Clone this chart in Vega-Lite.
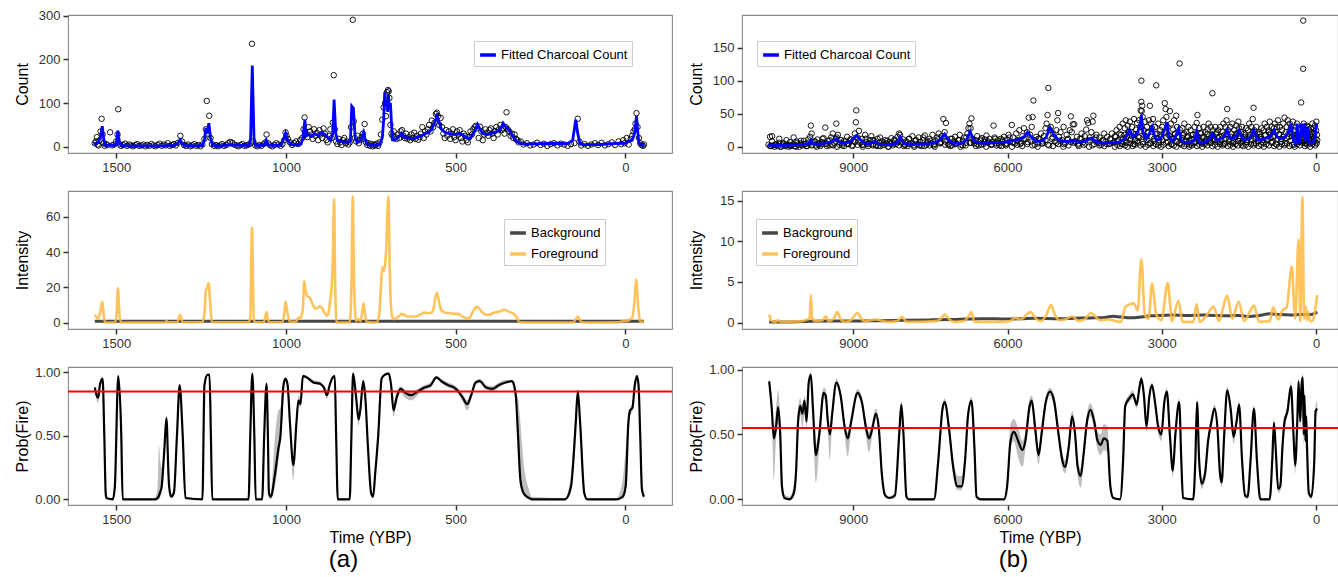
{
"$schema":"https://vega.github.io/schema/vega-lite/v6.json",
"background":"white",
"padding":{"left":13,"top":9,"right":0,"bottom":0},
"config":{
 "font":"Liberation Sans",
 "view":{"stroke":"#8c8c8c","strokeWidth":1.1},
 "axis":{"grid":false,"domain":false,"tickColor":"#333333","tickWidth":1.5,"tickSize":5,"labelFont":"Liberation Sans","labelFontSize":13,"labelColor":"#333333","labelPadding":3,"titleFont":"Liberation Sans","titleFontSize":16,"titleFontWeight":"normal","titleColor":"#000000","labelOverlap":false,"labelFlush":false},
 "axisY":{"titleX":-46,"titleBaseline":"middle"},
 "axisX":{"titlePadding":3,"format":"d"},
 "legend":{"labelFont":"Liberation Sans","labelFontSize":13,"labelColor":"#000000","symbolType":"stroke","symbolStrokeWidth":3.5,"symbolSize":250,"padding":4,"rowPadding":4,"strokeColor":"#cccccc","fillColor":"white","labelOffset":3},
 "title":{"font":"Liberation Sans","fontSize":24,"fontWeight":"normal","color":"#000000"}
},
"datasets":{
"Lpts":[{"t":1563,"c":8},{"t":1560,"c":12},{"t":1557,"c":22},{"t":1555,"c":5},{"t":1552,"c":3},{"t":1549,"c":15},{"t":1546,"c":35},{"t":1543,"c":64},{"t":1540,"c":28},{"t":1537,"c":8},{"t":1534,"c":2},{"t":1530,"c":6},{"t":1526,"c":4},{"t":1518,"c":33},{"t":1512,"c":3},{"t":1506,"c":5},{"t":1500,"c":12},{"t":1496,"c":28},{"t":1494,"c":86},{"t":1490,"c":6},{"t":1486,"c":2},{"t":1480,"c":4},{"t":1474,"c":7},{"t":1468,"c":2},{"t":1462,"c":5},{"t":1456,"c":3},{"t":1450,"c":1},{"t":1444,"c":4},{"t":1438,"c":6},{"t":1432,"c":2},{"t":1426,"c":3},{"t":1420,"c":5},{"t":1414,"c":1},{"t":1408,"c":4},{"t":1402,"c":2},{"t":1396,"c":6},{"t":1390,"c":3},{"t":1384,"c":1},{"t":1378,"c":4},{"t":1372,"c":7},{"t":1366,"c":2},{"t":1360,"c":5},{"t":1354,"c":3},{"t":1348,"c":8},{"t":1342,"c":2},{"t":1336,"c":4},{"t":1330,"c":6},{"t":1324,"c":3},{"t":1318,"c":9},{"t":1311,"c":25},{"t":1306,"c":12},{"t":1300,"c":4},{"t":1294,"c":2},{"t":1288,"c":5},{"t":1282,"c":1},{"t":1276,"c":3},{"t":1270,"c":6},{"t":1264,"c":2},{"t":1258,"c":4},{"t":1252,"c":1},{"t":1246,"c":5},{"t":1240,"c":18},{"t":1236,"c":40},{"t":1233,"c":105},{"t":1229,"c":30},{"t":1226,"c":71},{"t":1222,"c":20},{"t":1218,"c":6},{"t":1212,"c":2},{"t":1206,"c":4},{"t":1200,"c":1},{"t":1194,"c":3},{"t":1188,"c":6},{"t":1182,"c":2},{"t":1176,"c":4},{"t":1170,"c":8},{"t":1164,"c":11},{"t":1158,"c":9},{"t":1152,"c":5},{"t":1146,"c":3},{"t":1140,"c":1},{"t":1134,"c":4},{"t":1128,"c":6},{"t":1122,"c":2},{"t":1116,"c":3},{"t":1110,"c":5},{"t":1104,"c":8},{"t":1100,"c":236},{"t":1096,"c":12},{"t":1090,"c":3},{"t":1084,"c":1},{"t":1078,"c":4},{"t":1072,"c":2},{"t":1066,"c":6},{"t":1060,"c":10},{"t":1057,"c":28},{"t":1052,"c":8},{"t":1046,"c":3},{"t":1040,"c":1},{"t":1034,"c":4},{"t":1028,"c":8},{"t":1022,"c":5},{"t":1016,"c":2},{"t":1010,"c":6},{"t":1005,"c":15},{"t":1001,"c":33},{"t":998,"c":25},{"t":994,"c":18},{"t":988,"c":10},{"t":982,"c":4},{"t":976,"c":8},{"t":970,"c":12},{"t":964,"c":6},{"t":958,"c":15},{"t":952,"c":20},{"t":948,"c":40},{"t":945,"c":67},{"t":941,"c":30},{"t":937,"c":22},{"t":933,"c":45},{"t":929,"c":35},{"t":925,"c":28},{"t":921,"c":18},{"t":917,"c":40},{"t":913,"c":25},{"t":909,"c":32},{"t":905,"c":15},{"t":901,"c":38},{"t":897,"c":28},{"t":893,"c":20},{"t":889,"c":42},{"t":885,"c":30},{"t":881,"c":15},{"t":877,"c":10},{"t":873,"c":25},{"t":869,"c":40},{"t":865,"c":20},{"t":862,"c":55},{"t":859,"c":164},{"t":856,"c":40},{"t":852,"c":12},{"t":848,"c":6},{"t":844,"c":18},{"t":840,"c":10},{"t":836,"c":4},{"t":832,"c":15},{"t":828,"c":20},{"t":824,"c":8},{"t":820,"c":12},{"t":816,"c":5},{"t":812,"c":10},{"t":808,"c":45},{"t":803,"c":291},{"t":800,"c":58},{"t":797,"c":20},{"t":793,"c":12},{"t":789,"c":25},{"t":785,"c":8},{"t":781,"c":15},{"t":777,"c":22},{"t":773,"c":30},{"t":768,"c":52},{"t":764,"c":10},{"t":760,"c":4},{"t":756,"c":8},{"t":752,"c":2},{"t":748,"c":6},{"t":744,"c":1},{"t":740,"c":5},{"t":736,"c":3},{"t":732,"c":7},{"t":728,"c":2},{"t":724,"c":10},{"t":720,"c":28},{"t":716,"c":62},{"t":712,"c":90},{"t":708,"c":100},{"t":705,"c":70},{"t":702,"c":125},{"t":699,"c":130},{"t":697,"c":127},{"t":695,"c":112},{"t":692,"c":50},{"t":689,"c":30},{"t":686,"c":25},{"t":682,"c":35},{"t":678,"c":22},{"t":674,"c":18},{"t":670,"c":28},{"t":666,"c":20},{"t":662,"c":35},{"t":658,"c":38},{"t":654,"c":25},{"t":650,"c":20},{"t":646,"c":30},{"t":642,"c":18},{"t":638,"c":22},{"t":634,"c":15},{"t":630,"c":28},{"t":626,"c":20},{"t":622,"c":32},{"t":618,"c":18},{"t":614,"c":25},{"t":610,"c":16},{"t":606,"c":22},{"t":602,"c":30},{"t":598,"c":45},{"t":594,"c":20},{"t":590,"c":35},{"t":586,"c":28},{"t":582,"c":40},{"t":578,"c":50},{"t":574,"c":35},{"t":570,"c":60},{"t":566,"c":45},{"t":562,"c":55},{"t":558,"c":75},{"t":555,"c":78},{"t":552,"c":70},{"t":548,"c":50},{"t":544,"c":66},{"t":540,"c":45},{"t":536,"c":30},{"t":532,"c":20},{"t":528,"c":38},{"t":524,"c":25},{"t":520,"c":35},{"t":516,"c":18},{"t":512,"c":30},{"t":508,"c":40},{"t":504,"c":22},{"t":500,"c":15},{"t":496,"c":35},{"t":492,"c":28},{"t":488,"c":38},{"t":484,"c":20},{"t":480,"c":12},{"t":476,"c":30},{"t":472,"c":25},{"t":468,"c":15},{"t":464,"c":10},{"t":460,"c":22},{"t":456,"c":35},{"t":452,"c":28},{"t":448,"c":40},{"t":444,"c":45},{"t":440,"c":48},{"t":436,"c":42},{"t":432,"c":20},{"t":428,"c":46},{"t":424,"c":35},{"t":420,"c":15},{"t":416,"c":28},{"t":412,"c":40},{"t":408,"c":32},{"t":404,"c":25},{"t":400,"c":38},{"t":396,"c":42},{"t":392,"c":30},{"t":388,"c":20},{"t":384,"c":36},{"t":380,"c":45},{"t":376,"c":28},{"t":372,"c":40},{"t":368,"c":50},{"t":364,"c":38},{"t":360,"c":42},{"t":356,"c":30},{"t":352,"c":45},{"t":350,"c":79},{"t":346,"c":40},{"t":342,"c":35},{"t":338,"c":25},{"t":334,"c":30},{"t":330,"c":20},{"t":326,"c":28},{"t":322,"c":18},{"t":318,"c":15},{"t":314,"c":10},{"t":308,"c":12},{"t":300,"c":5},{"t":290,"c":8},{"t":280,"c":3},{"t":270,"c":5},{"t":260,"c":9},{"t":250,"c":4},{"t":240,"c":7},{"t":230,"c":2},{"t":220,"c":6},{"t":210,"c":8},{"t":200,"c":3},{"t":190,"c":7},{"t":180,"c":5},{"t":170,"c":2},{"t":160,"c":6},{"t":150,"c":8},{"t":140,"c":64},{"t":135,"c":12},{"t":130,"c":3},{"t":120,"c":6},{"t":110,"c":2},{"t":100,"c":5},{"t":90,"c":8},{"t":80,"c":4},{"t":70,"c":9},{"t":60,"c":3},{"t":50,"c":6},{"t":40,"c":10},{"t":30,"c":4},{"t":20,"c":12},{"t":12,"c":6},{"t":6,"c":15},{"t":2,"c":8},{"t":-4,"c":20},{"t":-10,"c":5},{"t":-16,"c":18},{"t":-20,"c":25},{"t":-24,"c":35},{"t":-28,"c":40},{"t":-30,"c":53},{"t":-33,"c":77},{"t":-36,"c":45},{"t":-40,"c":20},{"t":-44,"c":8},{"t":-48,"c":4},{"t":-52,"c":2},{"t":-55,"c":5}],
"Lfit":[{"t":1566,"v":8},{"t":1560,"v":6},{"t":1552,"v":10},{"t":1546,"v":25},{"t":1541,"v":47},{"t":1537,"v":20},{"t":1533,"v":4},{"t":1526,"v":3},{"t":1510,"v":3},{"t":1500,"v":5},{"t":1495,"v":37},{"t":1490,"v":8},{"t":1485,"v":3},{"t":1470,"v":2},{"t":1440,"v":2},{"t":1400,"v":2},{"t":1360,"v":2},{"t":1330,"v":3},{"t":1318,"v":8},{"t":1312,"v":16},{"t":1306,"v":8},{"t":1300,"v":3},{"t":1260,"v":2},{"t":1246,"v":3},{"t":1240,"v":15},{"t":1236,"v":43},{"t":1232,"v":30},{"t":1227,"v":54},{"t":1222,"v":20},{"t":1216,"v":3},{"t":1200,"v":2},{"t":1160,"v":4},{"t":1130,"v":3},{"t":1108,"v":3},{"t":1104,"v":20},{"t":1099,"v":186},{"t":1094,"v":20},{"t":1090,"v":3},{"t":1064,"v":3},{"t":1058,"v":15},{"t":1052,"v":3},{"t":1015,"v":3},{"t":1008,"v":15},{"t":1001,"v":31},{"t":995,"v":15},{"t":985,"v":5},{"t":970,"v":4},{"t":955,"v":6},{"t":950,"v":20},{"t":944,"v":62},{"t":940,"v":25},{"t":935,"v":28},{"t":925,"v":24},{"t":915,"v":30},{"t":905,"v":25},{"t":895,"v":32},{"t":885,"v":28},{"t":875,"v":20},{"t":868,"v":15},{"t":862,"v":30},{"t":858,"v":108},{"t":853,"v":30},{"t":848,"v":15},{"t":838,"v":12},{"t":825,"v":10},{"t":810,"v":12},{"t":806,"v":93},{"t":801,"v":88},{"t":796,"v":20},{"t":790,"v":10},{"t":780,"v":14},{"t":771,"v":33},{"t":765,"v":12},{"t":758,"v":5},{"t":740,"v":4},{"t":725,"v":4},{"t":716,"v":20},{"t":712,"v":60},{"t":709,"v":125},{"t":706,"v":95},{"t":703,"v":108},{"t":700,"v":80},{"t":698,"v":120},{"t":695,"v":90},{"t":692,"v":100},{"t":689,"v":55},{"t":686,"v":16},{"t":680,"v":15},{"t":672,"v":20},{"t":665,"v":25},{"t":659,"v":31},{"t":652,"v":22},{"t":640,"v":20},{"t":625,"v":18},{"t":612,"v":22},{"t":600,"v":25},{"t":590,"v":30},{"t":580,"v":32},{"t":570,"v":40},{"t":562,"v":55},{"t":555,"v":70},{"t":548,"v":55},{"t":542,"v":40},{"t":530,"v":32},{"t":515,"v":30},{"t":500,"v":28},{"t":485,"v":30},{"t":470,"v":22},{"t":458,"v":18},{"t":448,"v":30},{"t":440,"v":40},{"t":435,"v":51},{"t":428,"v":40},{"t":420,"v":30},{"t":410,"v":28},{"t":395,"v":30},{"t":380,"v":35},{"t":368,"v":40},{"t":360,"v":54},{"t":352,"v":45},{"t":342,"v":38},{"t":332,"v":25},{"t":320,"v":12},{"t":310,"v":8},{"t":300,"v":6},{"t":250,"v":7},{"t":200,"v":8},{"t":170,"v":7},{"t":155,"v":15},{"t":146,"v":62},{"t":140,"v":30},{"t":133,"v":6},{"t":120,"v":5},{"t":80,"v":5},{"t":40,"v":7},{"t":10,"v":8},{"t":0,"v":8},{"t":-10,"v":12},{"t":-20,"v":15},{"t":-27,"v":30},{"t":-31,"v":55},{"t":-33,"v":70},{"t":-36,"v":40},{"t":-40,"v":10},{"t":-45,"v":5},{"t":-55,"v":2}],
"LintF":[{"t":1563,"v":4.7},{"t":1554,"v":2.5},{"t":1548,"v":5},{"t":1541,"v":12},{"t":1536,"v":3},{"t":1533,"v":0.5},{"t":1525,"v":0.1},{"t":1504,"v":0.1},{"t":1499,"v":4},{"t":1495,"v":19.5},{"t":1490,"v":4},{"t":1485,"v":0.1},{"t":1400,"v":0.1},{"t":1355,"v":0.3},{"t":1352,"v":1},{"t":1348,"v":0.3},{"t":1320,"v":0.3},{"t":1312,"v":4.3},{"t":1304,"v":0.3},{"t":1246,"v":0.3},{"t":1240,"v":5},{"t":1236,"v":18},{"t":1231,"v":20},{"t":1228,"v":22.5},{"t":1222,"v":8},{"t":1218,"v":0.3},{"t":1110,"v":0.3},{"t":1105,"v":3},{"t":1100,"v":54},{"t":1095,"v":3},{"t":1092,"v":0.3},{"t":1065,"v":0.3},{"t":1061,"v":3},{"t":1057,"v":6},{"t":1053,"v":2},{"t":1048,"v":0.3},{"t":1010,"v":0.3},{"t":1005,"v":5},{"t":1001,"v":12},{"t":995,"v":5},{"t":988,"v":0.5},{"t":970,"v":0.5},{"t":963,"v":3},{"t":957,"v":2.5},{"t":950,"v":8},{"t":946,"v":23.5},{"t":941,"v":17},{"t":937,"v":15},{"t":929,"v":14},{"t":920,"v":10},{"t":913,"v":8},{"t":905,"v":8.5},{"t":900,"v":9.5},{"t":893,"v":8},{"t":887,"v":6},{"t":879,"v":4},{"t":875,"v":5},{"t":870,"v":12},{"t":866,"v":18},{"t":862,"v":35},{"t":858,"v":70},{"t":855,"v":25},{"t":851,"v":0.1},{"t":840,"v":0.1},{"t":812,"v":0.1},{"t":807,"v":20},{"t":803,"v":71.5},{"t":799,"v":20},{"t":793,"v":1},{"t":787,"v":2},{"t":780,"v":1},{"t":776,"v":5},{"t":771,"v":11},{"t":767,"v":5},{"t":762,"v":0.5},{"t":740,"v":0.1},{"t":731,"v":0.5},{"t":725,"v":5},{"t":720,"v":20},{"t":716,"v":31.5},{"t":711,"v":29},{"t":705,"v":40},{"t":698,"v":71.5},{"t":694,"v":30},{"t":690,"v":8},{"t":686,"v":3},{"t":680,"v":2},{"t":672,"v":3},{"t":665,"v":4},{"t":659,"v":5},{"t":652,"v":4.5},{"t":643,"v":3.5},{"t":630,"v":3.5},{"t":617,"v":3.5},{"t":605,"v":4.5},{"t":592,"v":5.7},{"t":585,"v":5.5},{"t":573,"v":5.5},{"t":565,"v":8},{"t":560,"v":14},{"t":555,"v":17},{"t":549,"v":12},{"t":542,"v":7},{"t":535,"v":6},{"t":525,"v":5.5},{"t":517,"v":5.5},{"t":505,"v":5},{"t":492,"v":5},{"t":480,"v":3.5},{"t":466,"v":2.5},{"t":458,"v":3},{"t":450,"v":6},{"t":442,"v":8.5},{"t":437,"v":9},{"t":430,"v":8},{"t":422,"v":6},{"t":415,"v":5},{"t":410,"v":4.5},{"t":400,"v":4.5},{"t":390,"v":5.5},{"t":378,"v":6},{"t":368,"v":6.5},{"t":358,"v":7.3},{"t":350,"v":7},{"t":340,"v":6},{"t":328,"v":5},{"t":320,"v":3},{"t":313,"v":0.5},{"t":309,"v":0.3},{"t":250,"v":0.1},{"t":180,"v":0.1},{"t":152,"v":0.3},{"t":146,"v":2},{"t":140,"v":3.5},{"t":135,"v":2},{"t":128,"v":0.3},{"t":100,"v":0.1},{"t":20,"v":0.2},{"t":5,"v":1},{"t":-5,"v":1},{"t":-15,"v":2},{"t":-20,"v":2.5},{"t":-27,"v":12},{"t":-32,"v":24.5},{"t":-37,"v":12},{"t":-42,"v":2},{"t":-45,"v":0.5},{"t":-55,"v":0.5}],
"LintB":[{"t":1563,"v":0.8},{"t":1400,"v":0.8},{"t":1200,"v":0.85},{"t":1000,"v":0.85},{"t":800,"v":0.85},{"t":600,"v":0.9},{"t":400,"v":0.85},{"t":200,"v":0.85},{"t":0,"v":0.85},{"t":-55,"v":0.8}],
"Lprob":[{"t":1563,"p":0.88,"lo":0.86,"hi":0.9},{"t":1558,"p":0.82,"lo":0.78,"hi":0.85},{"t":1553,"p":0.8,"lo":0.76,"hi":0.83},{"t":1548,"p":0.9,"lo":0.87,"hi":0.92},{"t":1540,"p":0.95,"lo":0.93,"hi":0.96},{"t":1535,"p":0.5,"lo":0.45,"hi":0.55},{"t":1531,"p":0.05,"lo":0.03,"hi":0.07},{"t":1529,"p":0.01,"lo":0,"hi":0.02},{"t":1510,"p":0,"lo":0,"hi":0.01},{"t":1504,"p":0.1,"lo":0.07,"hi":0.15},{"t":1494,"p":0.97,"lo":0.96,"hi":0.98},{"t":1485,"p":0.5,"lo":0.47,"hi":0.53},{"t":1481,"p":0,"lo":0,"hi":0.01},{"t":1390,"p":0,"lo":0,"hi":0.005},{"t":1384,"p":0,"lo":0,"hi":0.02},{"t":1378,"p":0.01,"lo":0,"hi":0.1},{"t":1374,"p":0.03,"lo":0,"hi":0.43},{"t":1370,"p":0.06,"lo":0.02,"hi":0.3},{"t":1366,"p":0.1,"lo":0.05,"hi":0.25},{"t":1358,"p":0.4,"lo":0.35,"hi":0.45},{"t":1352,"p":0.64,"lo":0.6,"hi":0.66},{"t":1346,"p":0.2,"lo":0.15,"hi":0.25},{"t":1344,"p":0.1,"lo":0.07,"hi":0.15},{"t":1338,"p":0.02,"lo":0.01,"hi":0.04},{"t":1330,"p":0.05,"lo":0.03,"hi":0.08},{"t":1321,"p":0.5,"lo":0.47,"hi":0.53},{"t":1313,"p":0.9,"lo":0.88,"hi":0.91},{"t":1304,"p":0.5,"lo":0.47,"hi":0.53},{"t":1296,"p":0.01,"lo":0,"hi":0.02},{"t":1246,"p":0,"lo":0,"hi":0.005},{"t":1240,"p":0.9,"lo":0.88,"hi":0.92},{"t":1231,"p":0.98,"lo":0.97,"hi":0.99},{"t":1225,"p":0.98,"lo":0.97,"hi":0.99},{"t":1221,"p":0.5,"lo":0.47,"hi":0.53},{"t":1217,"p":0,"lo":0,"hi":0.01},{"t":1110,"p":0,"lo":0,"hi":0.005},{"t":1105,"p":0.5,"lo":0.47,"hi":0.53},{"t":1099,"p":0.99,"lo":0.98,"hi":1},{"t":1093,"p":0.5,"lo":0.47,"hi":0.53},{"t":1089,"p":0,"lo":0,"hi":0.01},{"t":1070,"p":0,"lo":0,"hi":0.01},{"t":1064,"p":0.5,"lo":0.45,"hi":0.55},{"t":1057,"p":0.91,"lo":0.88,"hi":0.93},{"t":1053,"p":0.5,"lo":0.45,"hi":0.55},{"t":1050,"p":0.05,"lo":0.03,"hi":0.1},{"t":1045,"p":0.02,"lo":0,"hi":0.05},{"t":1032,"p":0.2,"lo":0.1,"hi":0.5},{"t":1022,"p":0.4,"lo":0.3,"hi":0.7},{"t":1016,"p":0.5,"lo":0.45,"hi":0.72},{"t":1007,"p":0.9,"lo":0.87,"hi":0.92},{"t":1001,"p":0.95,"lo":0.93,"hi":0.96},{"t":995,"p":0.9,"lo":0.88,"hi":0.92},{"t":988,"p":0.6,"lo":0.55,"hi":0.65},{"t":978,"p":0.27,"lo":0.15,"hi":0.32},{"t":969,"p":0.6,"lo":0.55,"hi":0.65},{"t":963,"p":0.78,"lo":0.74,"hi":0.82},{"t":957,"p":0.75,"lo":0.72,"hi":0.8},{"t":950,"p":0.97,"lo":0.96,"hi":0.98},{"t":938,"p":0.96,"lo":0.95,"hi":0.97},{"t":919,"p":0.92,"lo":0.91,"hi":0.94},{"t":900,"p":0.91,"lo":0.9,"hi":0.93},{"t":888,"p":0.88,"lo":0.86,"hi":0.9},{"t":879,"p":0.82,"lo":0.79,"hi":0.85},{"t":871,"p":0.9,"lo":0.88,"hi":0.92},{"t":862,"p":0.96,"lo":0.95,"hi":0.97},{"t":856,"p":0.97,"lo":0.96,"hi":0.98},{"t":852,"p":0.5,"lo":0.47,"hi":0.53},{"t":847,"p":0,"lo":0,"hi":0.01},{"t":812,"p":0,"lo":0,"hi":0.01},{"t":807,"p":0.5,"lo":0.47,"hi":0.53},{"t":802,"p":0.99,"lo":0.98,"hi":1},{"t":793,"p":0.8,"lo":0.77,"hi":0.83},{"t":786,"p":0.63,"lo":0.58,"hi":0.67},{"t":781,"p":0.7,"lo":0.66,"hi":0.73},{"t":772,"p":0.93,"lo":0.91,"hi":0.94},{"t":766,"p":0.8,"lo":0.77,"hi":0.83},{"t":758,"p":0.4,"lo":0.36,"hi":0.44},{"t":749,"p":0.05,"lo":0.03,"hi":0.08},{"t":743,"p":0.02,"lo":0.01,"hi":0.04},{"t":737,"p":0.2,"lo":0.17,"hi":0.24},{"t":728,"p":0.5,"lo":0.46,"hi":0.6},{"t":718,"p":0.95,"lo":0.93,"hi":0.96},{"t":709,"p":0.98,"lo":0.97,"hi":0.99},{"t":697,"p":0.99,"lo":0.98,"hi":1},{"t":690,"p":0.9,"lo":0.88,"hi":0.92},{"t":683,"p":0.7,"lo":0.65,"hi":0.75},{"t":674,"p":0.8,"lo":0.75,"hi":0.85},{"t":661,"p":0.87,"lo":0.84,"hi":0.89},{"t":649,"p":0.84,"lo":0.8,"hi":0.86},{"t":630,"p":0.82,"lo":0.78,"hi":0.85},{"t":611,"p":0.85,"lo":0.82,"hi":0.87},{"t":592,"p":0.88,"lo":0.86,"hi":0.9},{"t":573,"p":0.9,"lo":0.88,"hi":0.92},{"t":557,"p":0.96,"lo":0.95,"hi":0.97},{"t":542,"p":0.93,"lo":0.92,"hi":0.95},{"t":523,"p":0.9,"lo":0.88,"hi":0.92},{"t":504,"p":0.88,"lo":0.86,"hi":0.9},{"t":492,"p":0.85,"lo":0.83,"hi":0.87},{"t":479,"p":0.8,"lo":0.77,"hi":0.83},{"t":466,"p":0.75,"lo":0.7,"hi":0.78},{"t":454,"p":0.82,"lo":0.79,"hi":0.85},{"t":441,"p":0.92,"lo":0.9,"hi":0.93},{"t":429,"p":0.93,"lo":0.92,"hi":0.95},{"t":410,"p":0.88,"lo":0.86,"hi":0.9},{"t":391,"p":0.87,"lo":0.85,"hi":0.89},{"t":372,"p":0.9,"lo":0.88,"hi":0.92},{"t":353,"p":0.92,"lo":0.91,"hi":0.94},{"t":334,"p":0.93,"lo":0.92,"hi":0.94},{"t":328,"p":0.9,"lo":0.89,"hi":0.92},{"t":322,"p":0.8,"lo":0.78,"hi":0.83},{"t":316,"p":0.5,"lo":0.45,"hi":0.8},{"t":309,"p":0.15,"lo":0.12,"hi":0.6},{"t":300,"p":0.05,"lo":0.03,"hi":0.3},{"t":284,"p":0.01,"lo":0,"hi":0.08},{"t":275,"p":0,"lo":0,"hi":0.02},{"t":177,"p":0,"lo":0,"hi":0.01},{"t":160,"p":0.1,"lo":0.05,"hi":0.2},{"t":146,"p":0.6,"lo":0.55,"hi":0.7},{"t":140,"p":0.85,"lo":0.82,"hi":0.87},{"t":133,"p":0.6,"lo":0.55,"hi":0.65},{"t":121,"p":0.05,"lo":0.03,"hi":0.1},{"t":112,"p":0,"lo":0,"hi":0.01},{"t":26,"p":0,"lo":0,"hi":0.01},{"t":8,"p":0.02,"lo":0,"hi":0.15},{"t":-1,"p":0.1,"lo":0.05,"hi":0.4},{"t":-9,"p":0.6,"lo":0.5,"hi":0.65},{"t":-14,"p":0.7,"lo":0.65,"hi":0.72},{"t":-21,"p":0.72,"lo":0.7,"hi":0.75},{"t":-28,"p":0.9,"lo":0.88,"hi":0.92},{"t":-34,"p":0.97,"lo":0.96,"hi":0.98},{"t":-39,"p":0.9,"lo":0.88,"hi":0.92},{"t":-44,"p":0.5,"lo":0.47,"hi":0.53},{"t":-49,"p":0.08,"lo":0.05,"hi":0.1},{"t":-55,"p":0.02,"lo":0.01,"hi":0.03}],
"Rpts":[{"t":10650,"c":3},{"t":10620,"c":15},{"t":10600,"c":1},{"t":10580,"c":16},{"t":10560,"c":2},{"t":10530,"c":0},{"t":10500,"c":4},{"t":10470,"c":1},{"t":10440,"c":6},{"t":10410,"c":0},{"t":10380,"c":2},{"t":10350,"c":5},{"t":10320,"c":1},{"t":10290,"c":3},{"t":10260,"c":0},{"t":10230,"c":7},{"t":10200,"c":2},{"t":10170,"c":4},{"t":10140,"c":1},{"t":10110,"c":8},{"t":10080,"c":3},{"t":10050,"c":0},{"t":10020,"c":5},{"t":9990,"c":2},{"t":9960,"c":9},{"t":9930,"c":4},{"t":9900,"c":1},{"t":9870,"c":6},{"t":9840,"c":15},{"t":9826,"c":32},{"t":9810,"c":20},{"t":9790,"c":3},{"t":9760,"c":8},{"t":9730,"c":2},{"t":9700,"c":11},{"t":9670,"c":5},{"t":9640,"c":1},{"t":9610,"c":7},{"t":9580,"c":13},{"t":9545,"c":29},{"t":9520,"c":4},{"t":9490,"c":9},{"t":9460,"c":2},{"t":9430,"c":14},{"t":9400,"c":20},{"t":9370,"c":6},{"t":9340,"c":12},{"t":9330,"c":35},{"t":9300,"c":18},{"t":9270,"c":3},{"t":9240,"c":10},{"t":9210,"c":5},{"t":9180,"c":1},{"t":9150,"c":8},{"t":9120,"c":15},{"t":9090,"c":4},{"t":9060,"c":11},{"t":9030,"c":2},{"t":9000,"c":9},{"t":8970,"c":20},{"t":8950,"c":37},{"t":8942,"c":55},{"t":8920,"c":14},{"t":8890,"c":24},{"t":8860,"c":6},{"t":8830,"c":12},{"t":8800,"c":3},{"t":8770,"c":18},{"t":8740,"c":7},{"t":8710,"c":1},{"t":8680,"c":10},{"t":8650,"c":16},{"t":8620,"c":4},{"t":8590,"c":9},{"t":8560,"c":2},{"t":8530,"c":12},{"t":8500,"c":6},{"t":8470,"c":1},{"t":8440,"c":8},{"t":8410,"c":3},{"t":8380,"c":10},{"t":8350,"c":5},{"t":8320,"c":0},{"t":8290,"c":7},{"t":8260,"c":13},{"t":8230,"c":2},{"t":8200,"c":9},{"t":8170,"c":4},{"t":8140,"c":15},{"t":8110,"c":20},{"t":8090,"c":18},{"t":8060,"c":6},{"t":8030,"c":11},{"t":8000,"c":3},{"t":7970,"c":8},{"t":7940,"c":1},{"t":7910,"c":12},{"t":7880,"c":5},{"t":7850,"c":16},{"t":7820,"c":2},{"t":7790,"c":9},{"t":7760,"c":4},{"t":7730,"c":14},{"t":7700,"c":7},{"t":7670,"c":1},{"t":7640,"c":10},{"t":7610,"c":17},{"t":7580,"c":3},{"t":7550,"c":8},{"t":7520,"c":12},{"t":7490,"c":5},{"t":7460,"c":18},{"t":7430,"c":2},{"t":7400,"c":9},{"t":7370,"c":14},{"t":7340,"c":20},{"t":7310,"c":6},{"t":7280,"c":16},{"t":7248,"c":42},{"t":7223,"c":22},{"t":7198,"c":36},{"t":7170,"c":10},{"t":7140,"c":4},{"t":7110,"c":12},{"t":7080,"c":2},{"t":7050,"c":8},{"t":7020,"c":15},{"t":6990,"c":5},{"t":6960,"c":10},{"t":6930,"c":18},{"t":6900,"c":3},{"t":6870,"c":9},{"t":6840,"c":14},{"t":6810,"c":6},{"t":6780,"c":20},{"t":6760,"c":28},{"t":6740,"c":35},{"t":6719,"c":28},{"t":6702,"c":43},{"t":6680,"c":12},{"t":6650,"c":5},{"t":6620,"c":10},{"t":6590,"c":16},{"t":6560,"c":2},{"t":6530,"c":9},{"t":6500,"c":13},{"t":6470,"c":4},{"t":6440,"c":11},{"t":6410,"c":17},{"t":6380,"c":6},{"t":6350,"c":12},{"t":6320,"c":3},{"t":6290,"c":8},{"t":6272,"c":32},{"t":6250,"c":14},{"t":6220,"c":5},{"t":6190,"c":10},{"t":6160,"c":2},{"t":6130,"c":12},{"t":6100,"c":7},{"t":6070,"c":15},{"t":6040,"c":4},{"t":6010,"c":11},{"t":5980,"c":18},{"t":5950,"c":8},{"t":5917,"c":33},{"t":5890,"c":14},{"t":5860,"c":5},{"t":5830,"c":20},{"t":5800,"c":10},{"t":5770,"c":25},{"t":5740,"c":6},{"t":5710,"c":16},{"t":5680,"c":28},{"t":5650,"c":12},{"t":5620,"c":22},{"t":5587,"c":44},{"t":5560,"c":18},{"t":5530,"c":30},{"t":5512,"c":45},{"t":5496,"c":70},{"t":5470,"c":10},{"t":5440,"c":15},{"t":5410,"c":5},{"t":5380,"c":12},{"t":5350,"c":20},{"t":5320,"c":8},{"t":5290,"c":16},{"t":5260,"c":28},{"t":5240,"c":35},{"t":5222,"c":48},{"t":5206,"c":89},{"t":5180,"c":25},{"t":5160,"c":30},{"t":5140,"c":12},{"t":5110,"c":20},{"t":5080,"c":8},{"t":5050,"c":25},{"t":5030,"c":40},{"t":5016,"c":51},{"t":5000,"c":15},{"t":4970,"c":22},{"t":4940,"c":10},{"t":4910,"c":30},{"t":4880,"c":5},{"t":4850,"c":18},{"t":4820,"c":12},{"t":4790,"c":25},{"t":4768,"c":46},{"t":4750,"c":22},{"t":4730,"c":34},{"t":4702,"c":34},{"t":4680,"c":8},{"t":4650,"c":15},{"t":4620,"c":5},{"t":4590,"c":12},{"t":4560,"c":20},{"t":4530,"c":7},{"t":4500,"c":16},{"t":4470,"c":26},{"t":4454,"c":40},{"t":4430,"c":36},{"t":4400,"c":14},{"t":4370,"c":22},{"t":4345,"c":38},{"t":4330,"c":47},{"t":4300,"c":10},{"t":4270,"c":18},{"t":4240,"c":6},{"t":4210,"c":14},{"t":4180,"c":3},{"t":4150,"c":10},{"t":4120,"c":20},{"t":4090,"c":8},{"t":4060,"c":15},{"t":4030,"c":4},{"t":4000,"c":12},{"t":3970,"c":20},{"t":3940,"c":6},{"t":3910,"c":16},{"t":3880,"c":25},{"t":3850,"c":10},{"t":3820,"c":30},{"t":3790,"c":18},{"t":3760,"c":35},{"t":3740,"c":8},{"t":3720,"c":28},{"t":3700,"c":40},{"t":3680,"c":15},{"t":3660,"c":32},{"t":3640,"c":22},{"t":3620,"c":38},{"t":3600,"c":12},{"t":3580,"c":30},{"t":3560,"c":20},{"t":3540,"c":42},{"t":3520,"c":10},{"t":3500,"c":26},{"t":3480,"c":36},{"t":3460,"c":15},{"t":3440,"c":40},{"t":3420,"c":30},{"t":3410,"c":55},{"t":3396,"c":100},{"t":3398,"c":68},{"t":3390,"c":54},{"t":3380,"c":62},{"t":3370,"c":45},{"t":3350,"c":25},{"t":3330,"c":38},{"t":3310,"c":15},{"t":3290,"c":30},{"t":3270,"c":22},{"t":3250,"c":40},{"t":3231,"c":62},{"t":3210,"c":35},{"t":3190,"c":28},{"t":3170,"c":42},{"t":3150,"c":12},{"t":3130,"c":30},{"t":3107,"c":93},{"t":3090,"c":20},{"t":3070,"c":35},{"t":3050,"c":10},{"t":3030,"c":25},{"t":3010,"c":15},{"t":2990,"c":30},{"t":2970,"c":40},{"t":2942,"c":66},{"t":2925,"c":57},{"t":2910,"c":45},{"t":2890,"c":30},{"t":2870,"c":18},{"t":2843,"c":54},{"t":2820,"c":35},{"t":2800,"c":12},{"t":2780,"c":26},{"t":2760,"c":40},{"t":2740,"c":20},{"t":2719,"c":47},{"t":2700,"c":30},{"t":2680,"c":15},{"t":2653,"c":126},{"t":2640,"c":25},{"t":2620,"c":10},{"t":2600,"c":28},{"t":2580,"c":18},{"t":2560,"c":35},{"t":2540,"c":8},{"t":2520,"c":22},{"t":2500,"c":14},{"t":2480,"c":30},{"t":2460,"c":10},{"t":2440,"c":25},{"t":2420,"c":5},{"t":2400,"c":18},{"t":2380,"c":12},{"t":2360,"c":30},{"t":2340,"c":20},{"t":2322,"c":36},{"t":2306,"c":48},{"t":2290,"c":15},{"t":2270,"c":28},{"t":2250,"c":8},{"t":2230,"c":20},{"t":2210,"c":14},{"t":2190,"c":30},{"t":2170,"c":6},{"t":2150,"c":22},{"t":2130,"c":12},{"t":2110,"c":26},{"t":2090,"c":35},{"t":2070,"c":10},{"t":2050,"c":30},{"t":2030,"c":18},{"t":2016,"c":81},{"t":2000,"c":25},{"t":1980,"c":12},{"t":1960,"c":30},{"t":1940,"c":20},{"t":1920,"c":8},{"t":1900,"c":25},{"t":1880,"c":15},{"t":1860,"c":30},{"t":1840,"c":10},{"t":1820,"c":22},{"t":1800,"c":35},{"t":1780,"c":18},{"t":1760,"c":30},{"t":1740,"c":40},{"t":1727,"c":57},{"t":1710,"c":25},{"t":1690,"c":12},{"t":1670,"c":30},{"t":1650,"c":20},{"t":1630,"c":35},{"t":1610,"c":8},{"t":1590,"c":25},{"t":1570,"c":15},{"t":1550,"c":32},{"t":1530,"c":20},{"t":1510,"c":38},{"t":1496,"c":28},{"t":1480,"c":12},{"t":1460,"c":22},{"t":1440,"c":30},{"t":1420,"c":8},{"t":1400,"c":20},{"t":1380,"c":15},{"t":1360,"c":28},{"t":1340,"c":10},{"t":1320,"c":25},{"t":1300,"c":35},{"t":1280,"c":18},{"t":1260,"c":30},{"t":1231,"c":42},{"t":1215,"c":59},{"t":1200,"c":25},{"t":1180,"c":12},{"t":1160,"c":30},{"t":1140,"c":20},{"t":1120,"c":8},{"t":1100,"c":22},{"t":1080,"c":15},{"t":1060,"c":28},{"t":1040,"c":10},{"t":1020,"c":25},{"t":1000,"c":35},{"t":980,"c":18},{"t":960,"c":30},{"t":940,"c":12},{"t":920,"c":25},{"t":900,"c":38},{"t":880,"c":20},{"t":860,"c":30},{"t":840,"c":15},{"t":818,"c":28},{"t":800,"c":35},{"t":780,"c":22},{"t":760,"c":30},{"t":740,"c":40},{"t":720,"c":18},{"t":700,"c":30},{"t":680,"c":12},{"t":660,"c":25},{"t":640,"c":35},{"t":612,"c":44},{"t":590,"c":22},{"t":570,"c":30},{"t":550,"c":40},{"t":530,"c":15},{"t":510,"c":35},{"t":490,"c":28},{"t":470,"c":20},{"t":450,"c":38},{"t":430,"c":25},{"t":410,"c":12},{"t":390,"c":30},{"t":370,"c":35},{"t":350,"c":18},{"t":330,"c":28},{"t":310,"c":8},{"t":289,"c":67},{"t":270,"c":30},{"t":256,"c":22},{"t":248,"c":191},{"t":249,"c":118},{"t":240,"c":35},{"t":230,"c":10},{"t":220,"c":30},{"t":210,"c":5},{"t":200,"c":25},{"t":190,"c":15},{"t":180,"c":32},{"t":170,"c":8},{"t":160,"c":20},{"t":150,"c":30},{"t":140,"c":12},{"t":130,"c":25},{"t":120,"c":5},{"t":110,"c":18},{"t":100,"c":28},{"t":90,"c":10},{"t":80,"c":22},{"t":70,"c":35},{"t":60,"c":15},{"t":50,"c":28},{"t":40,"c":8},{"t":30,"c":20},{"t":20,"c":32},{"t":10,"c":12},{"t":0,"c":25},{"t":-8,"c":38},{"t":-15,"c":5},{"t":-20,"c":18},{"t":-25,"c":10},{"t":10615,"c":1},{"t":10515,"c":3},{"t":10415,"c":0},{"t":10315,"c":2},{"t":10215,"c":1},{"t":10115,"c":0},{"t":10015,"c":3},{"t":9915,"c":1},{"t":9815,"c":2},{"t":9715,"c":0},{"t":9615,"c":4},{"t":9515,"c":1},{"t":9415,"c":3},{"t":9315,"c":0},{"t":9215,"c":2},{"t":9115,"c":5},{"t":9015,"c":1},{"t":8915,"c":3},{"t":8815,"c":0},{"t":8715,"c":4},{"t":8615,"c":2},{"t":8515,"c":1},{"t":8415,"c":3},{"t":8315,"c":0},{"t":8215,"c":5},{"t":8115,"c":2},{"t":8015,"c":1},{"t":7915,"c":4},{"t":7815,"c":0},{"t":7715,"c":3},{"t":7615,"c":1},{"t":7515,"c":2},{"t":7415,"c":0},{"t":7315,"c":5},{"t":7215,"c":3},{"t":7115,"c":1},{"t":7015,"c":4},{"t":6915,"c":0},{"t":6815,"c":2},{"t":6715,"c":6},{"t":6615,"c":1},{"t":6515,"c":3},{"t":6415,"c":0},{"t":6315,"c":4},{"t":6215,"c":2},{"t":6115,"c":1},{"t":6015,"c":5},{"t":5915,"c":0},{"t":5815,"c":3},{"t":5715,"c":1},{"t":5615,"c":4},{"t":5515,"c":2},{"t":5415,"c":0},{"t":5315,"c":5},{"t":5215,"c":3},{"t":5115,"c":1},{"t":5015,"c":4},{"t":4915,"c":0},{"t":4815,"c":2},{"t":4715,"c":6},{"t":4615,"c":1},{"t":4515,"c":3},{"t":4415,"c":0},{"t":4315,"c":4},{"t":4215,"c":2},{"t":4115,"c":1},{"t":4015,"c":5},{"t":3915,"c":0},{"t":3865,"c":3},{"t":3815,"c":1},{"t":3765,"c":4},{"t":3715,"c":2},{"t":3665,"c":0},{"t":3615,"c":5},{"t":3565,"c":1},{"t":3515,"c":3},{"t":3465,"c":6},{"t":3415,"c":2},{"t":3365,"c":4},{"t":3315,"c":0},{"t":3265,"c":3},{"t":3215,"c":5},{"t":3165,"c":1},{"t":3115,"c":4},{"t":3065,"c":2},{"t":3015,"c":0},{"t":2965,"c":3},{"t":2915,"c":6},{"t":2865,"c":1},{"t":2815,"c":4},{"t":2765,"c":2},{"t":2715,"c":0},{"t":2665,"c":5},{"t":2615,"c":3},{"t":2565,"c":1},{"t":2515,"c":4},{"t":2465,"c":0},{"t":2415,"c":2},{"t":2365,"c":5},{"t":2315,"c":1},{"t":2265,"c":3},{"t":2215,"c":0},{"t":2165,"c":4},{"t":2115,"c":2},{"t":2065,"c":6},{"t":2015,"c":1},{"t":1965,"c":3},{"t":1915,"c":0},{"t":1865,"c":4},{"t":1815,"c":2},{"t":1765,"c":5},{"t":1715,"c":1},{"t":1665,"c":3},{"t":1615,"c":0},{"t":1565,"c":4},{"t":1515,"c":2},{"t":1465,"c":6},{"t":1415,"c":1},{"t":1365,"c":3},{"t":1315,"c":0},{"t":1265,"c":4},{"t":1215,"c":2},{"t":1165,"c":5},{"t":1115,"c":1},{"t":1065,"c":3},{"t":1015,"c":0},{"t":965,"c":4},{"t":915,"c":2},{"t":865,"c":6},{"t":815,"c":1},{"t":765,"c":3},{"t":715,"c":0},{"t":665,"c":4},{"t":615,"c":2},{"t":565,"c":5},{"t":515,"c":1},{"t":465,"c":3},{"t":415,"c":0},{"t":365,"c":4},{"t":315,"c":2},{"t":265,"c":6},{"t":215,"c":1},{"t":165,"c":3},{"t":115,"c":0},{"t":65,"c":4},{"t":15,"c":2},{"t":10580,"c":8},{"t":10510,"c":3},{"t":10440,"c":12},{"t":10370,"c":5},{"t":10300,"c":10},{"t":10230,"c":2},{"t":10160,"c":14},{"t":10090,"c":6},{"t":10020,"c":9},{"t":9950,"c":4},{"t":9880,"c":11},{"t":9810,"c":7},{"t":9740,"c":8},{"t":9670,"c":3},{"t":9600,"c":12},{"t":9530,"c":5},{"t":9460,"c":10},{"t":9390,"c":2},{"t":9320,"c":14},{"t":9250,"c":6},{"t":9180,"c":9},{"t":9110,"c":4},{"t":9040,"c":11},{"t":8970,"c":7},{"t":8900,"c":8},{"t":8830,"c":3},{"t":8760,"c":12},{"t":8690,"c":5},{"t":8620,"c":10},{"t":8550,"c":2},{"t":8480,"c":14},{"t":8410,"c":6},{"t":8340,"c":9},{"t":8270,"c":4},{"t":8200,"c":11},{"t":8130,"c":7},{"t":8060,"c":8},{"t":7990,"c":3},{"t":7920,"c":12},{"t":7850,"c":5},{"t":7780,"c":10},{"t":7710,"c":2},{"t":7640,"c":14},{"t":7570,"c":6},{"t":7500,"c":9},{"t":7430,"c":4},{"t":7360,"c":11},{"t":7290,"c":7},{"t":7220,"c":8},{"t":7150,"c":3},{"t":7080,"c":12},{"t":7010,"c":5},{"t":6940,"c":10},{"t":6870,"c":2},{"t":6800,"c":14},{"t":6730,"c":6},{"t":6660,"c":9},{"t":6590,"c":4},{"t":6520,"c":11},{"t":6450,"c":7},{"t":6380,"c":8},{"t":6310,"c":3},{"t":6240,"c":12},{"t":6170,"c":5},{"t":6100,"c":10},{"t":6030,"c":2},{"t":5960,"c":14},{"t":5890,"c":6},{"t":5820,"c":9},{"t":5750,"c":4},{"t":5680,"c":11},{"t":5610,"c":7},{"t":5540,"c":8},{"t":5470,"c":3},{"t":5400,"c":12},{"t":5330,"c":5},{"t":5260,"c":10},{"t":5190,"c":2},{"t":5120,"c":14},{"t":5050,"c":6},{"t":4980,"c":9},{"t":4910,"c":4},{"t":4840,"c":11},{"t":4770,"c":7},{"t":4700,"c":8},{"t":4630,"c":3},{"t":4560,"c":12},{"t":4490,"c":5},{"t":4420,"c":10},{"t":4350,"c":2},{"t":4280,"c":14},{"t":4210,"c":6},{"t":4140,"c":9},{"t":4070,"c":4},{"t":4000,"c":11},{"t":3930,"c":7},{"t":3895,"c":15},{"t":3860,"c":8},{"t":3825,"c":20},{"t":3790,"c":5},{"t":3755,"c":12},{"t":3720,"c":18},{"t":3685,"c":6},{"t":3650,"c":22},{"t":3615,"c":10},{"t":3580,"c":16},{"t":3545,"c":4},{"t":3510,"c":19},{"t":3475,"c":9},{"t":3440,"c":14},{"t":3405,"c":24},{"t":3370,"c":7},{"t":3335,"c":17},{"t":3300,"c":11},{"t":3265,"c":21},{"t":3230,"c":5},{"t":3195,"c":15},{"t":3160,"c":9},{"t":3125,"c":19},{"t":3090,"c":13},{"t":3055,"c":6},{"t":3020,"c":18},{"t":2985,"c":10},{"t":2950,"c":22},{"t":2915,"c":14},{"t":2880,"c":7},{"t":2845,"c":16},{"t":2810,"c":4},{"t":2775,"c":12},{"t":2740,"c":19},{"t":2705,"c":8},{"t":2670,"c":15},{"t":2635,"c":5},{"t":2600,"c":13},{"t":2565,"c":20},{"t":2530,"c":9},{"t":2495,"c":16},{"t":2460,"c":3},{"t":2425,"c":12},{"t":2390,"c":18},{"t":2355,"c":7},{"t":2320,"c":14},{"t":2285,"c":10},{"t":2250,"c":21},{"t":2215,"c":5},{"t":2180,"c":15},{"t":2145,"c":9},{"t":2110,"c":19},{"t":2075,"c":12},{"t":2040,"c":6},{"t":2005,"c":17},{"t":1970,"c":10},{"t":1935,"c":22},{"t":1900,"c":13},{"t":1865,"c":7},{"t":1830,"c":16},{"t":1795,"c":4},{"t":1760,"c":12},{"t":1725,"c":19},{"t":1690,"c":8},{"t":1655,"c":15},{"t":1620,"c":5},{"t":1585,"c":13},{"t":1550,"c":20},{"t":1515,"c":9},{"t":1480,"c":16},{"t":1445,"c":3},{"t":1410,"c":12},{"t":1375,"c":18},{"t":1340,"c":7},{"t":1305,"c":14},{"t":1270,"c":10},{"t":1235,"c":21},{"t":1200,"c":5},{"t":1165,"c":15},{"t":1130,"c":9},{"t":1095,"c":19},{"t":1060,"c":12},{"t":1025,"c":6},{"t":990,"c":17},{"t":955,"c":10},{"t":920,"c":22},{"t":885,"c":13},{"t":850,"c":7},{"t":815,"c":16},{"t":780,"c":4},{"t":745,"c":12},{"t":710,"c":19},{"t":675,"c":8},{"t":640,"c":15},{"t":605,"c":5},{"t":570,"c":13},{"t":535,"c":20},{"t":500,"c":9},{"t":465,"c":16},{"t":430,"c":3},{"t":395,"c":12},{"t":360,"c":18},{"t":325,"c":7},{"t":290,"c":14},{"t":255,"c":10},{"t":220,"c":21},{"t":185,"c":5},{"t":150,"c":15},{"t":115,"c":9},{"t":80,"c":19},{"t":45,"c":12},{"t":10,"c":6}],
"Rfit":[{"t":10652,"v":2},{"t":10500,"v":2},{"t":10300,"v":2},{"t":10100,"v":3},{"t":9950,"v":4},{"t":9870,"v":5},{"t":9840,"v":8},{"t":9826,"v":10},{"t":9800,"v":5},{"t":9700,"v":4},{"t":9560,"v":5},{"t":9450,"v":7},{"t":9380,"v":10},{"t":9330,"v":12},{"t":9280,"v":8},{"t":9200,"v":5},{"t":9080,"v":7},{"t":9000,"v":12},{"t":8942,"v":17},{"t":8880,"v":12},{"t":8800,"v":6},{"t":8700,"v":4},{"t":8586,"v":8},{"t":8500,"v":4},{"t":8300,"v":3},{"t":8160,"v":5},{"t":8090,"v":15},{"t":8020,"v":5},{"t":7900,"v":4},{"t":7700,"v":4},{"t":7500,"v":5},{"t":7350,"v":8},{"t":7223,"v":19},{"t":7150,"v":10},{"t":7050,"v":5},{"t":6900,"v":5},{"t":6800,"v":10},{"t":6727,"v":23},{"t":6650,"v":8},{"t":6500,"v":5},{"t":6355,"v":6},{"t":6200,"v":6},{"t":6050,"v":7},{"t":5950,"v":8},{"t":5850,"v":10},{"t":5750,"v":12},{"t":5680,"v":15},{"t":5611,"v":22},{"t":5540,"v":15},{"t":5450,"v":8},{"t":5330,"v":9},{"t":5250,"v":14},{"t":5173,"v":29},{"t":5100,"v":18},{"t":5000,"v":10},{"t":4900,"v":8},{"t":4800,"v":8},{"t":4700,"v":9},{"t":4600,"v":7},{"t":4500,"v":8},{"t":4372,"v":13},{"t":4280,"v":8},{"t":4150,"v":5},{"t":4041,"v":6},{"t":3900,"v":6},{"t":3793,"v":8},{"t":3700,"v":14},{"t":3628,"v":25},{"t":3560,"v":15},{"t":3480,"v":20},{"t":3430,"v":30},{"t":3396,"v":48},{"t":3360,"v":20},{"t":3300,"v":12},{"t":3240,"v":20},{"t":3190,"v":30},{"t":3130,"v":14},{"t":3091,"v":10},{"t":3000,"v":15},{"t":2950,"v":25},{"t":2901,"v":37},{"t":2860,"v":15},{"t":2802,"v":8},{"t":2740,"v":14},{"t":2678,"v":27},{"t":2620,"v":10},{"t":2554,"v":6},{"t":2450,"v":6},{"t":2370,"v":10},{"t":2322,"v":22},{"t":2280,"v":8},{"t":2223,"v":5},{"t":2140,"v":8},{"t":2070,"v":12},{"t":2016,"v":20},{"t":1960,"v":12},{"t":1934,"v":10},{"t":1850,"v":12},{"t":1790,"v":15},{"t":1727,"v":25},{"t":1680,"v":14},{"t":1645,"v":12},{"t":1560,"v":15},{"t":1496,"v":25},{"t":1440,"v":14},{"t":1397,"v":10},{"t":1300,"v":12},{"t":1250,"v":18},{"t":1207,"v":25},{"t":1150,"v":12},{"t":1107,"v":10},{"t":1000,"v":12},{"t":900,"v":15},{"t":818,"v":25},{"t":760,"v":15},{"t":700,"v":12},{"t":600,"v":15},{"t":530,"v":22},{"t":488,"v":35},{"t":440,"v":10},{"t":405,"v":5},{"t":380,"v":15},{"t":364,"v":35},{"t":340,"v":10},{"t":322,"v":5},{"t":300,"v":15},{"t":281,"v":35},{"t":264,"v":15},{"t":240,"v":35},{"t":220,"v":8},{"t":198,"v":30},{"t":180,"v":10},{"t":157,"v":30},{"t":140,"v":8},{"t":116,"v":5},{"t":80,"v":5},{"t":50,"v":8},{"t":20,"v":15},{"t":0,"v":28},{"t":-8,"v":35}],
"RintF":[{"t":10636,"v":1.0},{"t":10586,"v":0.2},{"t":10504,"v":0.1},{"t":10471,"v":0.3},{"t":10400,"v":0.1},{"t":10000,"v":0.2},{"t":9900,"v":0.4},{"t":9850,"v":0.5},{"t":9826,"v":3.4},{"t":9800,"v":0.5},{"t":9743,"v":0.2},{"t":9600,"v":0.3},{"t":9537,"v":0.8},{"t":9480,"v":0.2},{"t":9380,"v":0.5},{"t":9314,"v":1.3},{"t":9250,"v":0.5},{"t":9165,"v":0.1},{"t":9050,"v":0.3},{"t":8917,"v":1.2},{"t":8820,"v":0.3},{"t":8752,"v":0.2},{"t":8586,"v":0.4},{"t":8300,"v":0.1},{"t":8150,"v":0.2},{"t":8049,"v":0.7},{"t":7960,"v":0.1},{"t":7760,"v":0.1},{"t":7400,"v":0.2},{"t":7300,"v":0.5},{"t":7223,"v":1.0},{"t":7130,"v":0.4},{"t":7016,"v":0.1},{"t":6850,"v":0.2},{"t":6760,"v":0.8},{"t":6702,"v":1.3},{"t":6644,"v":0.1},{"t":6100,"v":0.1},{"t":5942,"v":0.2},{"t":5859,"v":0.6},{"t":5750,"v":0.4},{"t":5553,"v":1.3},{"t":5430,"v":0.4},{"t":5363,"v":0.2},{"t":5240,"v":1.0},{"t":5157,"v":2.2},{"t":5080,"v":1.0},{"t":4991,"v":0.3},{"t":4850,"v":0.5},{"t":4744,"v":0.8},{"t":4620,"v":0.2},{"t":4500,"v":0.4},{"t":4380,"v":1.2},{"t":4250,"v":0.5},{"t":4206,"v":0.3},{"t":4041,"v":0.4},{"t":3900,"v":0.2},{"t":3793,"v":0.1},{"t":3711,"v":1.9},{"t":3600,"v":2.3},{"t":3545,"v":2.4},{"t":3470,"v":1.5},{"t":3396,"v":7.8},{"t":3330,"v":1.0},{"t":3256,"v":0.5},{"t":3190,"v":4.8},{"t":3107,"v":1.0},{"t":3008,"v":0.3},{"t":2884,"v":4.9},{"t":2802,"v":0.2},{"t":2678,"v":2.7},{"t":2595,"v":0.1},{"t":2388,"v":0.1},{"t":2322,"v":2.3},{"t":2264,"v":0.1},{"t":2140,"v":0.8},{"t":1992,"v":2.0},{"t":1892,"v":0.2},{"t":1727,"v":3.3},{"t":1628,"v":0.5},{"t":1504,"v":2.6},{"t":1397,"v":0.2},{"t":1207,"v":2.1},{"t":1107,"v":0.1},{"t":901,"v":0.2},{"t":835,"v":1.9},{"t":736,"v":0.4},{"t":653,"v":1.5},{"t":570,"v":1.9},{"t":471,"v":6.9},{"t":420,"v":1.5},{"t":405,"v":0.5},{"t":339,"v":10.2},{"t":306,"v":0.2},{"t":264,"v":15.4},{"t":231,"v":0.5},{"t":198,"v":2.0},{"t":174,"v":0.3},{"t":157,"v":1.3},{"t":116,"v":0.2},{"t":58,"v":0.3},{"t":20,"v":1.5},{"t":-25,"v":3.4}],
"RintB":[{"t":10636,"v":0.1},{"t":10300,"v":0.1},{"t":10000,"v":0.15},{"t":9500,"v":0.2},{"t":9000,"v":0.2},{"t":8500,"v":0.25},{"t":8000,"v":0.3},{"t":7500,"v":0.35},{"t":7000,"v":0.4},{"t":6500,"v":0.5},{"t":6000,"v":0.45},{"t":5700,"v":0.5},{"t":5500,"v":0.55},{"t":5000,"v":0.5},{"t":4700,"v":0.55},{"t":4300,"v":0.6},{"t":4100,"v":0.65},{"t":3950,"v":0.8},{"t":3800,"v":0.7},{"t":3600,"v":0.6},{"t":3400,"v":0.7},{"t":3200,"v":0.85},{"t":3000,"v":0.9},{"t":2800,"v":0.95},{"t":2500,"v":0.9},{"t":2200,"v":0.95},{"t":2000,"v":0.9},{"t":1700,"v":0.85},{"t":1500,"v":0.9},{"t":1300,"v":0.75},{"t":1100,"v":0.9},{"t":900,"v":1.1},{"t":700,"v":1.0},{"t":500,"v":0.95},{"t":300,"v":1.0},{"t":100,"v":1.0},{"t":-25,"v":1.3}],
"Rprob":[{"t":10636,"p":0.91,"lo":0.88,"hi":0.94},{"t":10586,"p":0.7,"lo":0.6,"hi":0.78},{"t":10545,"p":0.47,"lo":0.15,"hi":0.55},{"t":10504,"p":0.55,"lo":0.45,"hi":0.7},{"t":10462,"p":0.71,"lo":0.6,"hi":0.84},{"t":10421,"p":0.5,"lo":0.35,"hi":0.6},{"t":10388,"p":0.1,"lo":0.05,"hi":0.2},{"t":10338,"p":0.01,"lo":0,"hi":0.04},{"t":10239,"p":0,"lo":0,"hi":0.02},{"t":10156,"p":0.05,"lo":0.02,"hi":0.12},{"t":10115,"p":0.2,"lo":0.12,"hi":0.3},{"t":10074,"p":0.6,"lo":0.5,"hi":0.7},{"t":10032,"p":0.72,"lo":0.65,"hi":0.78},{"t":9991,"p":0.66,"lo":0.55,"hi":0.72},{"t":9950,"p":0.76,"lo":0.66,"hi":0.8},{"t":9909,"p":0.6,"lo":0.55,"hi":0.7},{"t":9867,"p":0.9,"lo":0.85,"hi":0.94},{"t":9826,"p":0.96,"lo":0.93,"hi":0.98},{"t":9785,"p":0.7,"lo":0.6,"hi":0.75},{"t":9727,"p":0.34,"lo":0.13,"hi":0.42},{"t":9661,"p":0.5,"lo":0.4,"hi":0.58},{"t":9578,"p":0.82,"lo":0.78,"hi":0.86},{"t":9537,"p":0.8,"lo":0.75,"hi":0.85},{"t":9495,"p":0.6,"lo":0.52,"hi":0.66},{"t":9454,"p":0.5,"lo":0.3,"hi":0.55},{"t":9413,"p":0.65,"lo":0.58,"hi":0.7},{"t":9330,"p":0.9,"lo":0.87,"hi":0.93},{"t":9247,"p":0.8,"lo":0.76,"hi":0.84},{"t":9165,"p":0.55,"lo":0.48,"hi":0.6},{"t":9107,"p":0.47,"lo":0.33,"hi":0.52},{"t":9041,"p":0.6,"lo":0.55,"hi":0.65},{"t":8917,"p":0.82,"lo":0.79,"hi":0.85},{"t":8834,"p":0.75,"lo":0.71,"hi":0.79},{"t":8752,"p":0.55,"lo":0.48,"hi":0.6},{"t":8694,"p":0.47,"lo":0.36,"hi":0.52},{"t":8628,"p":0.55,"lo":0.5,"hi":0.6},{"t":8562,"p":0.66,"lo":0.62,"hi":0.7},{"t":8504,"p":0.55,"lo":0.48,"hi":0.6},{"t":8446,"p":0.2,"lo":0.15,"hi":0.25},{"t":8380,"p":0.03,"lo":0.01,"hi":0.05},{"t":8297,"p":0.01,"lo":0,"hi":0.02},{"t":8190,"p":0.03,"lo":0.01,"hi":0.05},{"t":8107,"p":0.5,"lo":0.45,"hi":0.55},{"t":8066,"p":0.73,"lo":0.7,"hi":0.76},{"t":8024,"p":0.5,"lo":0.45,"hi":0.55},{"t":7966,"p":0.02,"lo":0,"hi":0.03},{"t":7925,"p":0,"lo":0,"hi":0.01},{"t":7429,"p":0,"lo":0,"hi":0.01},{"t":7347,"p":0.3,"lo":0.25,"hi":0.35},{"t":7264,"p":0.7,"lo":0.66,"hi":0.73},{"t":7223,"p":0.75,"lo":0.72,"hi":0.78},{"t":7140,"p":0.55,"lo":0.5,"hi":0.6},{"t":7058,"p":0.25,"lo":0.2,"hi":0.32},{"t":6975,"p":0.1,"lo":0.07,"hi":0.18},{"t":6892,"p":0.1,"lo":0.07,"hi":0.18},{"t":6826,"p":0.3,"lo":0.25,"hi":0.35},{"t":6768,"p":0.65,"lo":0.6,"hi":0.7},{"t":6702,"p":0.76,"lo":0.73,"hi":0.79},{"t":6644,"p":0.4,"lo":0.35,"hi":0.45},{"t":6603,"p":0.02,"lo":0,"hi":0.04},{"t":6520,"p":0,"lo":0,"hi":0.01},{"t":6066,"p":0,"lo":0,"hi":0.01},{"t":6008,"p":0.1,"lo":0.07,"hi":0.15},{"t":5942,"p":0.45,"lo":0.4,"hi":0.58},{"t":5876,"p":0.52,"lo":0.45,"hi":0.62},{"t":5793,"p":0.45,"lo":0.32,"hi":0.55},{"t":5711,"p":0.38,"lo":0.25,"hi":0.45},{"t":5653,"p":0.45,"lo":0.38,"hi":0.52},{"t":5570,"p":0.72,"lo":0.68,"hi":0.78},{"t":5529,"p":0.76,"lo":0.72,"hi":0.8},{"t":5463,"p":0.55,"lo":0.48,"hi":0.62},{"t":5396,"p":0.34,"lo":0.27,"hi":0.4},{"t":5339,"p":0.5,"lo":0.44,"hi":0.56},{"t":5256,"p":0.75,"lo":0.71,"hi":0.79},{"t":5173,"p":0.83,"lo":0.8,"hi":0.86},{"t":5091,"p":0.75,"lo":0.7,"hi":0.8},{"t":5008,"p":0.5,"lo":0.45,"hi":0.56},{"t":4934,"p":0.3,"lo":0.24,"hi":0.36},{"t":4884,"p":0.25,"lo":0.2,"hi":0.3},{"t":4810,"p":0.4,"lo":0.34,"hi":0.46},{"t":4744,"p":0.64,"lo":0.58,"hi":0.68},{"t":4686,"p":0.5,"lo":0.44,"hi":0.56},{"t":4636,"p":0.25,"lo":0.18,"hi":0.3},{"t":4578,"p":0.18,"lo":0.09,"hi":0.24},{"t":4520,"p":0.35,"lo":0.28,"hi":0.42},{"t":4454,"p":0.6,"lo":0.55,"hi":0.66},{"t":4388,"p":0.69,"lo":0.64,"hi":0.74},{"t":4314,"p":0.6,"lo":0.54,"hi":0.66},{"t":4248,"p":0.45,"lo":0.38,"hi":0.52},{"t":4190,"p":0.42,"lo":0.34,"hi":0.5},{"t":4124,"p":0.47,"lo":0.38,"hi":0.58},{"t":4058,"p":0.45,"lo":0.36,"hi":0.56},{"t":4000,"p":0.1,"lo":0.05,"hi":0.16},{"t":3942,"p":0.01,"lo":0,"hi":0.02},{"t":3810,"p":0,"lo":0,"hi":0.01},{"t":3752,"p":0.3,"lo":0.26,"hi":0.35},{"t":3711,"p":0.72,"lo":0.69,"hi":0.75},{"t":3628,"p":0.78,"lo":0.75,"hi":0.81},{"t":3562,"p":0.81,"lo":0.78,"hi":0.84},{"t":3488,"p":0.73,"lo":0.7,"hi":0.76},{"t":3438,"p":0.85,"lo":0.82,"hi":0.88},{"t":3396,"p":0.93,"lo":0.91,"hi":0.95},{"t":3347,"p":0.8,"lo":0.77,"hi":0.83},{"t":3297,"p":0.56,"lo":0.52,"hi":0.6},{"t":3240,"p":0.8,"lo":0.77,"hi":0.83},{"t":3190,"p":0.88,"lo":0.85,"hi":0.9},{"t":3132,"p":0.75,"lo":0.72,"hi":0.78},{"t":3066,"p":0.55,"lo":0.5,"hi":0.6},{"t":3008,"p":0.5,"lo":0.45,"hi":0.55},{"t":2950,"p":0.75,"lo":0.72,"hi":0.78},{"t":2901,"p":0.83,"lo":0.8,"hi":0.86},{"t":2843,"p":0.5,"lo":0.45,"hi":0.55},{"t":2785,"p":0.22,"lo":0.17,"hi":0.27},{"t":2735,"p":0.5,"lo":0.45,"hi":0.55},{"t":2661,"p":0.75,"lo":0.72,"hi":0.78},{"t":2620,"p":0.3,"lo":0.25,"hi":0.35},{"t":2587,"p":0.01,"lo":0,"hi":0.02},{"t":2388,"p":0,"lo":0,"hi":0.01},{"t":2347,"p":0.3,"lo":0.25,"hi":0.35},{"t":2314,"p":0.75,"lo":0.72,"hi":0.78},{"t":2273,"p":0.3,"lo":0.25,"hi":0.35},{"t":2223,"p":0.12,"lo":0.08,"hi":0.16},{"t":2157,"p":0.2,"lo":0.15,"hi":0.25},{"t":2099,"p":0.45,"lo":0.4,"hi":0.5},{"t":2033,"p":0.6,"lo":0.56,"hi":0.64},{"t":1975,"p":0.7,"lo":0.67,"hi":0.73},{"t":1917,"p":0.55,"lo":0.5,"hi":0.6},{"t":1868,"p":0.2,"lo":0.15,"hi":0.25},{"t":1835,"p":0.13,"lo":0.09,"hi":0.17},{"t":1785,"p":0.5,"lo":0.45,"hi":0.55},{"t":1727,"p":0.84,"lo":0.81,"hi":0.87},{"t":1661,"p":0.7,"lo":0.66,"hi":0.74},{"t":1603,"p":0.48,"lo":0.43,"hi":0.53},{"t":1545,"p":0.6,"lo":0.56,"hi":0.64},{"t":1496,"p":0.73,"lo":0.7,"hi":0.76},{"t":1438,"p":0.3,"lo":0.25,"hi":0.35},{"t":1380,"p":0.03,"lo":0.01,"hi":0.05},{"t":1330,"p":0.02,"lo":0,"hi":0.04},{"t":1273,"p":0.3,"lo":0.25,"hi":0.35},{"t":1207,"p":0.7,"lo":0.67,"hi":0.73},{"t":1149,"p":0.3,"lo":0.25,"hi":0.35},{"t":1083,"p":0,"lo":0,"hi":0.01},{"t":901,"p":0,"lo":0,"hi":0.01},{"t":851,"p":0.3,"lo":0.25,"hi":0.35},{"t":818,"p":0.59,"lo":0.55,"hi":0.63},{"t":785,"p":0.4,"lo":0.35,"hi":0.45},{"t":736,"p":0.08,"lo":0.05,"hi":0.12},{"t":694,"p":0.1,"lo":0.06,"hi":0.14},{"t":653,"p":0.4,"lo":0.35,"hi":0.45},{"t":612,"p":0.6,"lo":0.56,"hi":0.64},{"t":554,"p":0.68,"lo":0.64,"hi":0.72},{"t":488,"p":0.87,"lo":0.84,"hi":0.9},{"t":438,"p":0.5,"lo":0.45,"hi":0.55},{"t":405,"p":0.26,"lo":0.2,"hi":0.32},{"t":364,"p":0.6,"lo":0.55,"hi":0.65},{"t":339,"p":0.91,"lo":0.88,"hi":0.94},{"t":306,"p":0.6,"lo":0.52,"hi":0.66},{"t":281,"p":0.88,"lo":0.84,"hi":0.92},{"t":256,"p":0.94,"lo":0.9,"hi":0.97},{"t":240,"p":0.5,"lo":0.42,"hi":0.58},{"t":223,"p":0.8,"lo":0.74,"hi":0.85},{"t":207,"p":0.45,"lo":0.38,"hi":0.52},{"t":190,"p":0.64,"lo":0.58,"hi":0.7},{"t":174,"p":0.4,"lo":0.34,"hi":0.46},{"t":140,"p":0.05,"lo":0.03,"hi":0.08},{"t":91,"p":0.02,"lo":0,"hi":0.04},{"t":33,"p":0.3,"lo":0.25,"hi":0.35},{"t":8,"p":0.68,"lo":0.64,"hi":0.72},{"t":-25,"p":0.7,"lo":0.66,"hi":0.76}],
"Lthr":[{"h":0.85}],
"Rthr":[{"h":0.55}]
},
"hconcat":[
{
 "title":{"text":"(a)","orient":"bottom","anchor":"middle","offset":2},
 "bounds":"flush","spacing":38,
 "resolve":{"scale":{"color":"independent","x":"independent","y":"independent"},"legend":{"color":"independent"}},
 "vconcat":[
  {"width":604,"height":138,"layer":[
   {"data":{"name":"Lpts"},"mark":{"type":"point","shape":"circle","filled":false,"stroke":"#000000","strokeWidth":0.9,"size":30,"opacity":1},
    "encoding":{"x":{"field":"t","type":"quantitative","scale":{"domain":[-137.6,1642],"reverse":true,"nice":false,"zero":false},"axis":{"values":[0,500,1000,1500],"title":null}},
     "y":{"field":"c","type":"quantitative","scale":{"domain":[-14.4,302],"nice":false,"zero":false},"axis":{"values":[0,100,200,300],"title":"Count"}}}},
   {"data":{"name":"Lfit"},"mark":{"type":"line","strokeWidth":2.8},
    "encoding":{"x":{"field":"t","type":"quantitative"},"y":{"field":"v","type":"quantitative"},
     "color":{"datum":"Fitted Charcoal Count","type":"nominal","scale":{"range":["#0000ff"]},"legend":{"title":null,"orient":"none","legendX":406,"legendY":26}}}}
  ]},
  {"width":604,"height":138,"layer":[
   {"data":{"name":"LintB"},"mark":{"type":"line","strokeWidth":3,"interpolate":"monotone","opacity":0.85},
    "encoding":{"x":{"field":"t","type":"quantitative","scale":{"domain":[-137.6,1642],"reverse":true,"nice":false,"zero":false},"axis":{"values":[0,500,1000,1500],"title":null}},
     "y":{"field":"v","type":"quantitative","scale":{"domain":[-3.55,74.6],"nice":false,"zero":false},"axis":{"values":[0,20,40,60],"title":"Intensity"}},
     "color":{"datum":"Background","type":"nominal","scale":{"domain":["Background","Foreground"],"range":["#262626","#ffb940"]},"legend":{"title":null,"orient":"none","legendX":436,"legendY":28}}}},
   {"data":{"name":"LintF"},"mark":{"type":"line","strokeWidth":2.6,"interpolate":"monotone","opacity":0.85},
    "encoding":{"x":{"field":"t","type":"quantitative"},"y":{"field":"v","type":"quantitative"},"color":{"datum":"Foreground","type":"nominal"}}}
  ]},
  {"width":604,"height":138,"layer":[
   {"data":{"name":"Lprob"},"mark":{"type":"area","color":"#bebebe","interpolate":"monotone"},
    "encoding":{"x":{"field":"t","type":"quantitative","scale":{"domain":[-137.6,1642],"reverse":true,"nice":false,"zero":false},"axis":{"values":[0,500,1000,1500],"title":"Time (YBP)"}},
     "y":{"field":"lo","type":"quantitative","scale":{"domain":[-0.045,1.042],"nice":false,"zero":false},"axis":{"values":[0,0.25,0.5,0.75,1],"format":".2f","title":"Prob(Fire)"}},
     "y2":{"field":"hi"}}},
   {"data":{"name":"Lprob"},"mark":{"type":"line","color":"#000000","strokeWidth":2.2,"interpolate":"monotone"},
    "encoding":{"x":{"field":"t","type":"quantitative"},"y":{"field":"p","type":"quantitative"}}},
   {"data":{"name":"Lthr"},"mark":{"type":"rule","color":"#ff0000","strokeWidth":2},
    "encoding":{"y":{"field":"h","type":"quantitative"}}}
  ]}
 ]
},
{
 "title":{"text":"(b)","orient":"bottom","anchor":"middle","offset":2},
 "bounds":"flush","spacing":38,
 "resolve":{"scale":{"color":"independent","x":"independent","y":"independent"},"legend":{"color":"independent"}},
 "vconcat":[
  {"width":596,"height":138,"layer":[
   {"data":{"name":"Rpts"},"mark":{"type":"point","shape":"circle","filled":false,"stroke":"#000000","strokeWidth":0.9,"size":30,"opacity":1},
    "encoding":{"x":{"field":"t","type":"quantitative","scale":{"domain":[-428,11165],"reverse":true,"nice":false,"zero":false},"axis":{"values":[0,3000,6000,9000],"title":null}},
     "y":{"field":"c","type":"quantitative","scale":{"domain":[-9.5,199.5],"nice":false,"zero":false},"axis":{"values":[0,50,100,150],"title":"Count"}}}},
   {"data":{"name":"Rfit"},"mark":{"type":"line","strokeWidth":2.8},
    "encoding":{"x":{"field":"t","type":"quantitative"},"y":{"field":"v","type":"quantitative"},
     "color":{"datum":"Fitted Charcoal Count","type":"nominal","scale":{"range":["#0000ff"]},"legend":{"title":null,"orient":"none","legendX":15,"legendY":26}}}}
  ]},
  {"width":596,"height":138,"layer":[
   {"data":{"name":"RintB"},"mark":{"type":"line","strokeWidth":3,"interpolate":"monotone","opacity":0.85},
    "encoding":{"x":{"field":"t","type":"quantitative","scale":{"domain":[-428,11165],"reverse":true,"nice":false,"zero":false},"axis":{"values":[0,3000,6000,9000],"title":null}},
     "y":{"field":"v","type":"quantitative","scale":{"domain":[-0.77,16.17],"nice":false,"zero":false},"axis":{"values":[0,5,10,15],"title":"Intensity"}},
     "color":{"datum":"Background","type":"nominal","scale":{"domain":["Background","Foreground"],"range":["#262626","#ffb940"]},"legend":{"title":null,"orient":"none","legendX":14,"legendY":28}}}},
   {"data":{"name":"RintF"},"mark":{"type":"line","strokeWidth":2.6,"interpolate":"monotone","opacity":0.85},
    "encoding":{"x":{"field":"t","type":"quantitative"},"y":{"field":"v","type":"quantitative"},"color":{"datum":"Foreground","type":"nominal"}}}
  ]},
  {"width":596,"height":138,"layer":[
   {"data":{"name":"Rprob"},"mark":{"type":"area","color":"#bebebe","interpolate":"monotone"},
    "encoding":{"x":{"field":"t","type":"quantitative","scale":{"domain":[-428,11165],"reverse":true,"nice":false,"zero":false},"axis":{"values":[0,3000,6000,9000],"title":"Time (YBP)"}},
     "y":{"field":"lo","type":"quantitative","scale":{"domain":[-0.044,1.02],"nice":false,"zero":false},"axis":{"values":[0,0.25,0.5,0.75,1],"format":".2f","title":"Prob(Fire)"}},
     "y2":{"field":"hi"}}},
   {"data":{"name":"Rprob"},"mark":{"type":"line","color":"#000000","strokeWidth":2.2,"interpolate":"monotone"},
    "encoding":{"x":{"field":"t","type":"quantitative"},"y":{"field":"p","type":"quantitative"}}},
   {"data":{"name":"Rthr"},"mark":{"type":"rule","color":"#ff0000","strokeWidth":2},
    "encoding":{"y":{"field":"h","type":"quantitative"}}}
  ]}
 ]
}
],
"spacing":13,
"resolve":{"scale":{"color":"independent","x":"independent","y":"independent"},"legend":{"color":"independent"}}
}
